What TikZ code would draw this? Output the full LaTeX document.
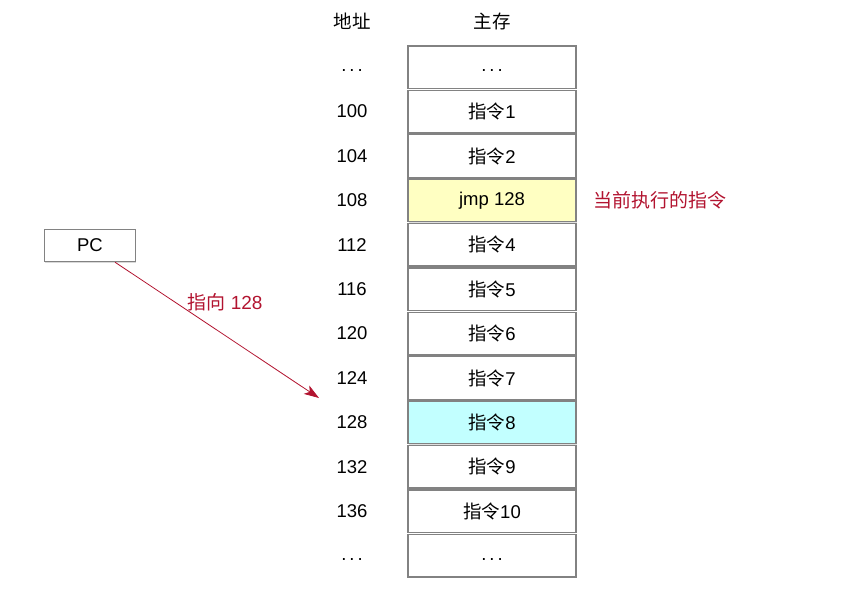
\documentclass[tikz,border=0pt]{standalone}
\usepackage{fontspec}
\setmainfont{Liberation Sans}
\newfontfamily\cjk{Noto Sans CJK SC}
\usetikzlibrary{arrows.meta,shadows}
\definecolor{memline}{RGB}{130,130,130}
\definecolor{hlred}{RGB}{178,20,48}
\definecolor{jmpfill}{RGB}{255,255,194}
\definecolor{curfill}{RGB}{194,255,255}
\tikzset{
  cell/.style={draw=memline, line width=1.4pt, fill=white, minimum width=168pt, minimum height=42.5pt, inner sep=0pt, font=\fontsize{18.5}{20}\selectfont, drop shadow={shadow xshift=0.8pt, shadow yshift=-1pt, opacity=0.25}},
  addr/.style={font=\fontsize{18.5}{20}\selectfont, inner sep=0pt},
  hdr/.style={font=\fontsize{18.5}{20}\selectfont\cjk, inner sep=0pt},
  redtxt/.style={text=hlred, font=\fontsize{19}{21}\selectfont, inner sep=0pt},
  pcbox/.style={draw=memline, line width=1.4pt, fill=white, minimum width=91pt, minimum height=32pt, inner sep=0pt, font=\fontsize{18.5}{20}\selectfont, drop shadow={shadow xshift=0.8pt, shadow yshift=-1.5pt, opacity=0.3}},
  ptr/.style={draw=hlred, line width=0.8pt, -{Stealth[length=15pt,width=10pt,inset=4pt]}}
}
\newcommand{\mydots}{\rule{0pt}{9pt}.\hspace{3pt}.\hspace{3pt}.}
\begin{document}
\begin{tikzpicture}[x=1pt,y=-1pt]
\useasboundingbox (0,0) rectangle (848,594);
\node[hdr] (haddr) at (352,21) {地址};
\node[hdr] (hmem) at (492,21) {主存};
% memory cells
\node[cell] (m0)  at (492,67.2)  {\mydots};
\node[cell] (m1)  at (492,111.6) {{\cjk 指令}1};
\node[cell] (m2)  at (492,156.0) {{\cjk 指令}2};
\node[cell, fill=jmpfill] (m3)  at (492,200.4) {jmp 128};
\node[cell] (m4)  at (492,244.8) {{\cjk 指令}4};
\node[cell] (m5)  at (492,289.2) {{\cjk 指令}5};
\node[cell] (m6)  at (492,333.6) {{\cjk 指令}6};
\node[cell] (m7)  at (492,378.0) {{\cjk 指令}7};
\node[cell, fill=curfill] (m8)  at (492,422.4) {{\cjk 指令}8};
\node[cell] (m9)  at (492,466.8) {{\cjk 指令}9};
\node[cell] (m10) at (492,511.2) {{\cjk 指令}10};
\node[cell] (m11) at (492,555.6) {\mydots};
% addresses
\node[addr] (a0)  at (352,67.2)  {\mydots};
\node[addr] (a1)  at (352,111.6) {100};
\node[addr] (a2)  at (352,156.0) {104};
\node[addr] (a3)  at (352,200.4) {108};
\node[addr] (a4)  at (352,244.8) {112};
\node[addr] (a5)  at (352,289.2) {116};
\node[addr] (a6)  at (352,333.6) {120};
\node[addr] (a7)  at (352,378.0) {124};
\node[addr] (a8)  at (352,422.4) {128};
\node[addr] (a9)  at (352,466.8) {132};
\node[addr] (a10) at (352,511.2) {136};
\node[addr] (a11) at (352,555.6) {\mydots};
% labels
\node[redtxt, anchor=west] (cur) at (593,200.4) {\cjk 当前执行的指令};
\node[pcbox] (pc) at (90,245.5) {PC};
\coordinate (ptrend) at (319,398);
\draw[ptr] (pc.south -| 115,0) -- (ptrend);
\node[redtxt] (ptrlbl) at (225,302) {{\cjk 指向} 128};
\end{tikzpicture}
\end{document}
